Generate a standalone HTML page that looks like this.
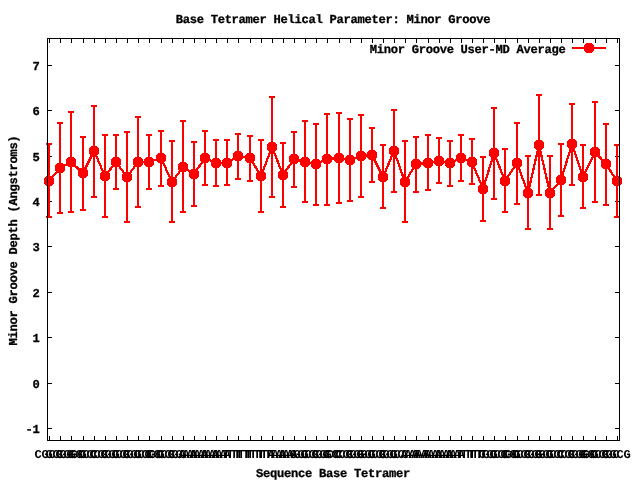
<!DOCTYPE html>
<html lang="en"><head><meta charset="utf-8"><title>Base Tetramer Helical Parameter: Minor Groove</title>
<style>html,body{margin:0;padding:0;background:#fff;}body{width:640px;height:480px;overflow:hidden;}svg{display:block;}text{font-family:"Liberation Mono","DejaVu Sans Mono",monospace;font-weight:bold;font-size:12.14px;fill:#000;letter-spacing:-0.285px;stroke:#000;stroke-width:0.3px;text-rendering:geometricPrecision;stroke-linejoin:round;}.xl text{stroke-width:0;stroke:none;}</style></head><body>
<svg width="640" height="480" viewBox="0 0 640 480">
<rect width="640" height="480" fill="#fff"/>
<g fill="#000" shape-rendering="crispEdges">
<rect x="49" y="436" width="1" height="4"/><rect x="49" y="39" width="1" height="4"/>
<rect x="60" y="436" width="1" height="4"/><rect x="60" y="39" width="1" height="4"/>
<rect x="71" y="436" width="1" height="4"/><rect x="71" y="39" width="1" height="4"/>
<rect x="83" y="436" width="1" height="4"/><rect x="83" y="39" width="1" height="4"/>
<rect x="94" y="436" width="1" height="4"/><rect x="94" y="39" width="1" height="4"/>
<rect x="105" y="436" width="1" height="4"/><rect x="105" y="39" width="1" height="4"/>
<rect x="116" y="436" width="1" height="4"/><rect x="116" y="39" width="1" height="4"/>
<rect x="127" y="436" width="1" height="4"/><rect x="127" y="39" width="1" height="4"/>
<rect x="138" y="436" width="1" height="4"/><rect x="138" y="39" width="1" height="4"/>
<rect x="149" y="436" width="1" height="4"/><rect x="149" y="39" width="1" height="4"/>
<rect x="161" y="436" width="1" height="4"/><rect x="161" y="39" width="1" height="4"/>
<rect x="172" y="436" width="1" height="4"/><rect x="172" y="39" width="1" height="4"/>
<rect x="183" y="436" width="1" height="4"/><rect x="183" y="39" width="1" height="4"/>
<rect x="194" y="436" width="1" height="4"/><rect x="194" y="39" width="1" height="4"/>
<rect x="205" y="436" width="1" height="4"/><rect x="205" y="39" width="1" height="4"/>
<rect x="216" y="436" width="1" height="4"/><rect x="216" y="39" width="1" height="4"/>
<rect x="227" y="436" width="1" height="4"/><rect x="227" y="39" width="1" height="4"/>
<rect x="238" y="436" width="1" height="4"/><rect x="238" y="39" width="1" height="4"/>
<rect x="250" y="436" width="1" height="4"/><rect x="250" y="39" width="1" height="4"/>
<rect x="261" y="436" width="1" height="4"/><rect x="261" y="39" width="1" height="4"/>
<rect x="272" y="436" width="1" height="4"/><rect x="272" y="39" width="1" height="4"/>
<rect x="283" y="436" width="1" height="4"/><rect x="283" y="39" width="1" height="4"/>
<rect x="294" y="436" width="1" height="4"/><rect x="294" y="39" width="1" height="4"/>
<rect x="305" y="436" width="1" height="4"/><rect x="305" y="39" width="1" height="4"/>
<rect x="316" y="436" width="1" height="4"/><rect x="316" y="39" width="1" height="4"/>
<rect x="327" y="436" width="1" height="4"/><rect x="327" y="39" width="1" height="4"/>
<rect x="339" y="436" width="1" height="4"/><rect x="339" y="39" width="1" height="4"/>
<rect x="350" y="436" width="1" height="4"/><rect x="350" y="39" width="1" height="4"/>
<rect x="361" y="436" width="1" height="4"/><rect x="361" y="39" width="1" height="4"/>
<rect x="372" y="436" width="1" height="4"/><rect x="372" y="39" width="1" height="4"/>
<rect x="383" y="436" width="1" height="4"/><rect x="383" y="39" width="1" height="4"/>
<rect x="394" y="436" width="1" height="4"/><rect x="394" y="39" width="1" height="4"/>
<rect x="405" y="436" width="1" height="4"/><rect x="405" y="39" width="1" height="4"/>
<rect x="416" y="436" width="1" height="4"/><rect x="416" y="39" width="1" height="4"/>
<rect x="428" y="436" width="1" height="4"/><rect x="428" y="39" width="1" height="4"/>
<rect x="439" y="436" width="1" height="4"/><rect x="439" y="39" width="1" height="4"/>
<rect x="450" y="436" width="1" height="4"/><rect x="450" y="39" width="1" height="4"/>
<rect x="461" y="436" width="1" height="4"/><rect x="461" y="39" width="1" height="4"/>
<rect x="472" y="436" width="1" height="4"/><rect x="472" y="39" width="1" height="4"/>
<rect x="483" y="436" width="1" height="4"/><rect x="483" y="39" width="1" height="4"/>
<rect x="494" y="436" width="1" height="4"/><rect x="494" y="39" width="1" height="4"/>
<rect x="505" y="436" width="1" height="4"/><rect x="505" y="39" width="1" height="4"/>
<rect x="517" y="436" width="1" height="4"/><rect x="517" y="39" width="1" height="4"/>
<rect x="528" y="436" width="1" height="4"/><rect x="528" y="39" width="1" height="4"/>
<rect x="539" y="436" width="1" height="4"/><rect x="539" y="39" width="1" height="4"/>
<rect x="550" y="436" width="1" height="4"/><rect x="550" y="39" width="1" height="4"/>
<rect x="561" y="436" width="1" height="4"/><rect x="561" y="39" width="1" height="4"/>
<rect x="572" y="436" width="1" height="4"/><rect x="572" y="39" width="1" height="4"/>
<rect x="583" y="436" width="1" height="4"/><rect x="583" y="39" width="1" height="4"/>
<rect x="595" y="436" width="1" height="4"/><rect x="595" y="39" width="1" height="4"/>
<rect x="606" y="436" width="1" height="4"/><rect x="606" y="39" width="1" height="4"/>
<rect x="617" y="436" width="1" height="4"/><rect x="617" y="39" width="1" height="4"/>
<rect x="48" y="65" width="4" height="1"/><rect x="615" y="65" width="4" height="1"/>
<rect x="48" y="110" width="4" height="1"/><rect x="615" y="110" width="4" height="1"/>
<rect x="48" y="156" width="4" height="1"/><rect x="615" y="156" width="4" height="1"/>
<rect x="48" y="201" width="4" height="1"/><rect x="615" y="201" width="4" height="1"/>
<rect x="48" y="246" width="4" height="1"/><rect x="615" y="246" width="4" height="1"/>
<rect x="48" y="292" width="4" height="1"/><rect x="615" y="292" width="4" height="1"/>
<rect x="48" y="337" width="4" height="1"/><rect x="615" y="337" width="4" height="1"/>
<rect x="48" y="383" width="4" height="1"/><rect x="615" y="383" width="4" height="1"/>
<rect x="48" y="428" width="4" height="1"/><rect x="615" y="428" width="4" height="1"/>
</g>
<g fill="#ff0000" stroke="none" shape-rendering="crispEdges">
<rect x="48" y="144" width="2" height="73"/>
<rect x="46" y="143" width="6" height="2"/><rect x="46" y="216" width="6" height="2"/>
<rect x="59" y="123" width="2" height="90"/>
<rect x="57" y="122" width="6" height="2"/><rect x="57" y="212" width="6" height="2"/>
<rect x="70" y="112" width="2" height="100"/>
<rect x="68" y="111" width="6" height="2"/><rect x="68" y="211" width="6" height="2"/>
<rect x="82" y="137" width="2" height="73"/>
<rect x="80" y="136" width="6" height="2"/><rect x="80" y="209" width="6" height="2"/>
<rect x="93" y="106" width="2" height="91"/>
<rect x="91" y="105" width="6" height="2"/><rect x="91" y="196" width="6" height="2"/>
<rect x="104" y="135" width="2" height="82"/>
<rect x="102" y="134" width="6" height="2"/><rect x="102" y="216" width="6" height="2"/>
<rect x="115" y="135" width="2" height="54"/>
<rect x="113" y="134" width="6" height="2"/><rect x="113" y="188" width="6" height="2"/>
<rect x="126" y="132" width="2" height="90"/>
<rect x="124" y="131" width="6" height="2"/><rect x="124" y="221" width="6" height="2"/>
<rect x="137" y="117" width="2" height="90"/>
<rect x="135" y="116" width="6" height="2"/><rect x="135" y="206" width="6" height="2"/>
<rect x="148" y="135" width="2" height="54"/>
<rect x="146" y="134" width="6" height="2"/><rect x="146" y="188" width="6" height="2"/>
<rect x="160" y="131" width="2" height="55"/>
<rect x="158" y="130" width="6" height="2"/><rect x="158" y="185" width="6" height="2"/>
<rect x="171" y="141" width="2" height="81"/>
<rect x="169" y="140" width="6" height="2"/><rect x="169" y="221" width="6" height="2"/>
<rect x="182" y="121" width="2" height="91"/>
<rect x="180" y="120" width="6" height="2"/><rect x="180" y="211" width="6" height="2"/>
<rect x="193" y="142" width="2" height="64"/>
<rect x="191" y="141" width="6" height="2"/><rect x="191" y="205" width="6" height="2"/>
<rect x="204" y="131" width="2" height="54"/>
<rect x="202" y="130" width="6" height="2"/><rect x="202" y="184" width="6" height="2"/>
<rect x="215" y="140" width="2" height="46"/>
<rect x="213" y="139" width="6" height="2"/><rect x="213" y="185" width="6" height="2"/>
<rect x="226" y="140" width="2" height="45"/>
<rect x="224" y="139" width="6" height="2"/><rect x="224" y="184" width="6" height="2"/>
<rect x="237" y="134" width="2" height="45"/>
<rect x="235" y="133" width="6" height="2"/><rect x="235" y="178" width="6" height="2"/>
<rect x="249" y="136" width="2" height="45"/>
<rect x="247" y="135" width="6" height="2"/><rect x="247" y="180" width="6" height="2"/>
<rect x="260" y="140" width="2" height="72"/>
<rect x="258" y="139" width="6" height="2"/><rect x="258" y="211" width="6" height="2"/>
<rect x="271" y="97" width="2" height="100"/>
<rect x="269" y="96" width="6" height="2"/><rect x="269" y="196" width="6" height="2"/>
<rect x="282" y="143" width="2" height="64"/>
<rect x="280" y="142" width="6" height="2"/><rect x="280" y="206" width="6" height="2"/>
<rect x="293" y="132" width="2" height="55"/>
<rect x="291" y="131" width="6" height="2"/><rect x="291" y="186" width="6" height="2"/>
<rect x="304" y="121" width="2" height="81"/>
<rect x="302" y="120" width="6" height="2"/><rect x="302" y="201" width="6" height="2"/>
<rect x="315" y="124" width="2" height="81"/>
<rect x="313" y="123" width="6" height="2"/><rect x="313" y="204" width="6" height="2"/>
<rect x="326" y="114" width="2" height="91"/>
<rect x="324" y="113" width="6" height="2"/><rect x="324" y="204" width="6" height="2"/>
<rect x="338" y="113" width="2" height="90"/>
<rect x="336" y="112" width="6" height="2"/><rect x="336" y="202" width="6" height="2"/>
<rect x="349" y="119" width="2" height="82"/>
<rect x="347" y="118" width="6" height="2"/><rect x="347" y="200" width="6" height="2"/>
<rect x="360" y="115" width="2" height="82"/>
<rect x="358" y="114" width="6" height="2"/><rect x="358" y="196" width="6" height="2"/>
<rect x="371" y="128" width="2" height="54"/>
<rect x="369" y="127" width="6" height="2"/><rect x="369" y="181" width="6" height="2"/>
<rect x="382" y="145" width="2" height="63"/>
<rect x="380" y="144" width="6" height="2"/><rect x="380" y="207" width="6" height="2"/>
<rect x="393" y="110" width="2" height="82"/>
<rect x="391" y="109" width="6" height="2"/><rect x="391" y="191" width="6" height="2"/>
<rect x="404" y="141" width="2" height="81"/>
<rect x="402" y="140" width="6" height="2"/><rect x="402" y="221" width="6" height="2"/>
<rect x="415" y="137" width="2" height="55"/>
<rect x="413" y="136" width="6" height="2"/><rect x="413" y="191" width="6" height="2"/>
<rect x="427" y="135" width="2" height="55"/>
<rect x="425" y="134" width="6" height="2"/><rect x="425" y="189" width="6" height="2"/>
<rect x="438" y="138" width="2" height="45"/>
<rect x="436" y="137" width="6" height="2"/><rect x="436" y="182" width="6" height="2"/>
<rect x="449" y="141" width="2" height="45"/>
<rect x="447" y="140" width="6" height="2"/><rect x="447" y="185" width="6" height="2"/>
<rect x="460" y="135" width="2" height="46"/>
<rect x="458" y="134" width="6" height="2"/><rect x="458" y="180" width="6" height="2"/>
<rect x="471" y="139" width="2" height="45"/>
<rect x="469" y="138" width="6" height="2"/><rect x="469" y="183" width="6" height="2"/>
<rect x="482" y="157" width="2" height="64"/>
<rect x="480" y="156" width="6" height="2"/><rect x="480" y="220" width="6" height="2"/>
<rect x="493" y="108" width="2" height="91"/>
<rect x="491" y="107" width="6" height="2"/><rect x="491" y="198" width="6" height="2"/>
<rect x="504" y="149" width="2" height="63"/>
<rect x="502" y="148" width="6" height="2"/><rect x="502" y="211" width="6" height="2"/>
<rect x="516" y="123" width="2" height="81"/>
<rect x="514" y="122" width="6" height="2"/><rect x="514" y="203" width="6" height="2"/>
<rect x="527" y="156" width="2" height="73"/>
<rect x="525" y="155" width="6" height="2"/><rect x="525" y="228" width="6" height="2"/>
<rect x="538" y="95" width="2" height="100"/>
<rect x="536" y="94" width="6" height="2"/><rect x="536" y="194" width="6" height="2"/>
<rect x="549" y="156" width="2" height="73"/>
<rect x="547" y="155" width="6" height="2"/><rect x="547" y="228" width="6" height="2"/>
<rect x="560" y="144" width="2" height="72"/>
<rect x="558" y="143" width="6" height="2"/><rect x="558" y="215" width="6" height="2"/>
<rect x="571" y="104" width="2" height="81"/>
<rect x="569" y="103" width="6" height="2"/><rect x="569" y="184" width="6" height="2"/>
<rect x="582" y="145" width="2" height="63"/>
<rect x="580" y="144" width="6" height="2"/><rect x="580" y="207" width="6" height="2"/>
<rect x="594" y="102" width="2" height="100"/>
<rect x="592" y="101" width="6" height="2"/><rect x="592" y="201" width="6" height="2"/>
<rect x="605" y="124" width="2" height="81"/>
<rect x="603" y="123" width="6" height="2"/><rect x="603" y="204" width="6" height="2"/>
<rect x="616" y="145" width="2" height="72"/>
<rect x="614" y="144" width="6" height="2"/><rect x="614" y="216" width="6" height="2"/>
</g>
<path d="M49 181 L60 168 L71 162 L83 173 L94 151 L105 176 L116 162 L127 177 L138 162 L149 162 L161 158 L172 182 L183 167 L194 174 L205 158 L216 163 L227 163 L238 156 L250 158 L261 176 L272 147 L283 175 L294 159 L305 162 L316 164 L327 159 L339 158 L350 160 L361 156 L372 155 L383 177 L394 151 L405 182 L416 164 L428 163 L439 161 L450 163 L461 158 L472 162 L483 189 L494 153 L505 181 L517 163 L528 193 L539 145 L550 193 L561 180 L572 144 L583 177 L595 152 L606 164 L617 181" fill="none" stroke="#ff0000" stroke-width="2.25" stroke-linejoin="round" shape-rendering="crispEdges"/>
<g fill="#ff0000" shape-rendering="crispEdges">
<path d="M46 176h6v1h1v1h1v6h-1v1h-1v1h-6v-1h-1v-1h-1v-6h1v-1h1z"/>
<path d="M57 163h6v1h1v1h1v6h-1v1h-1v1h-6v-1h-1v-1h-1v-6h1v-1h1z"/>
<path d="M68 157h6v1h1v1h1v6h-1v1h-1v1h-6v-1h-1v-1h-1v-6h1v-1h1z"/>
<path d="M80 168h6v1h1v1h1v6h-1v1h-1v1h-6v-1h-1v-1h-1v-6h1v-1h1z"/>
<path d="M91 146h6v1h1v1h1v6h-1v1h-1v1h-6v-1h-1v-1h-1v-6h1v-1h1z"/>
<path d="M102 171h6v1h1v1h1v6h-1v1h-1v1h-6v-1h-1v-1h-1v-6h1v-1h1z"/>
<path d="M113 157h6v1h1v1h1v6h-1v1h-1v1h-6v-1h-1v-1h-1v-6h1v-1h1z"/>
<path d="M124 172h6v1h1v1h1v6h-1v1h-1v1h-6v-1h-1v-1h-1v-6h1v-1h1z"/>
<path d="M135 157h6v1h1v1h1v6h-1v1h-1v1h-6v-1h-1v-1h-1v-6h1v-1h1z"/>
<path d="M146 157h6v1h1v1h1v6h-1v1h-1v1h-6v-1h-1v-1h-1v-6h1v-1h1z"/>
<path d="M158 153h6v1h1v1h1v6h-1v1h-1v1h-6v-1h-1v-1h-1v-6h1v-1h1z"/>
<path d="M169 177h6v1h1v1h1v6h-1v1h-1v1h-6v-1h-1v-1h-1v-6h1v-1h1z"/>
<path d="M180 162h6v1h1v1h1v6h-1v1h-1v1h-6v-1h-1v-1h-1v-6h1v-1h1z"/>
<path d="M191 169h6v1h1v1h1v6h-1v1h-1v1h-6v-1h-1v-1h-1v-6h1v-1h1z"/>
<path d="M202 153h6v1h1v1h1v6h-1v1h-1v1h-6v-1h-1v-1h-1v-6h1v-1h1z"/>
<path d="M213 158h6v1h1v1h1v6h-1v1h-1v1h-6v-1h-1v-1h-1v-6h1v-1h1z"/>
<path d="M224 158h6v1h1v1h1v6h-1v1h-1v1h-6v-1h-1v-1h-1v-6h1v-1h1z"/>
<path d="M235 151h6v1h1v1h1v6h-1v1h-1v1h-6v-1h-1v-1h-1v-6h1v-1h1z"/>
<path d="M247 153h6v1h1v1h1v6h-1v1h-1v1h-6v-1h-1v-1h-1v-6h1v-1h1z"/>
<path d="M258 171h6v1h1v1h1v6h-1v1h-1v1h-6v-1h-1v-1h-1v-6h1v-1h1z"/>
<path d="M269 142h6v1h1v1h1v6h-1v1h-1v1h-6v-1h-1v-1h-1v-6h1v-1h1z"/>
<path d="M280 170h6v1h1v1h1v6h-1v1h-1v1h-6v-1h-1v-1h-1v-6h1v-1h1z"/>
<path d="M291 154h6v1h1v1h1v6h-1v1h-1v1h-6v-1h-1v-1h-1v-6h1v-1h1z"/>
<path d="M302 157h6v1h1v1h1v6h-1v1h-1v1h-6v-1h-1v-1h-1v-6h1v-1h1z"/>
<path d="M313 159h6v1h1v1h1v6h-1v1h-1v1h-6v-1h-1v-1h-1v-6h1v-1h1z"/>
<path d="M324 154h6v1h1v1h1v6h-1v1h-1v1h-6v-1h-1v-1h-1v-6h1v-1h1z"/>
<path d="M336 153h6v1h1v1h1v6h-1v1h-1v1h-6v-1h-1v-1h-1v-6h1v-1h1z"/>
<path d="M347 155h6v1h1v1h1v6h-1v1h-1v1h-6v-1h-1v-1h-1v-6h1v-1h1z"/>
<path d="M358 151h6v1h1v1h1v6h-1v1h-1v1h-6v-1h-1v-1h-1v-6h1v-1h1z"/>
<path d="M369 150h6v1h1v1h1v6h-1v1h-1v1h-6v-1h-1v-1h-1v-6h1v-1h1z"/>
<path d="M380 172h6v1h1v1h1v6h-1v1h-1v1h-6v-1h-1v-1h-1v-6h1v-1h1z"/>
<path d="M391 146h6v1h1v1h1v6h-1v1h-1v1h-6v-1h-1v-1h-1v-6h1v-1h1z"/>
<path d="M402 177h6v1h1v1h1v6h-1v1h-1v1h-6v-1h-1v-1h-1v-6h1v-1h1z"/>
<path d="M413 159h6v1h1v1h1v6h-1v1h-1v1h-6v-1h-1v-1h-1v-6h1v-1h1z"/>
<path d="M425 158h6v1h1v1h1v6h-1v1h-1v1h-6v-1h-1v-1h-1v-6h1v-1h1z"/>
<path d="M436 156h6v1h1v1h1v6h-1v1h-1v1h-6v-1h-1v-1h-1v-6h1v-1h1z"/>
<path d="M447 158h6v1h1v1h1v6h-1v1h-1v1h-6v-1h-1v-1h-1v-6h1v-1h1z"/>
<path d="M458 153h6v1h1v1h1v6h-1v1h-1v1h-6v-1h-1v-1h-1v-6h1v-1h1z"/>
<path d="M469 157h6v1h1v1h1v6h-1v1h-1v1h-6v-1h-1v-1h-1v-6h1v-1h1z"/>
<path d="M480 184h6v1h1v1h1v6h-1v1h-1v1h-6v-1h-1v-1h-1v-6h1v-1h1z"/>
<path d="M491 148h6v1h1v1h1v6h-1v1h-1v1h-6v-1h-1v-1h-1v-6h1v-1h1z"/>
<path d="M502 176h6v1h1v1h1v6h-1v1h-1v1h-6v-1h-1v-1h-1v-6h1v-1h1z"/>
<path d="M514 158h6v1h1v1h1v6h-1v1h-1v1h-6v-1h-1v-1h-1v-6h1v-1h1z"/>
<path d="M525 188h6v1h1v1h1v6h-1v1h-1v1h-6v-1h-1v-1h-1v-6h1v-1h1z"/>
<path d="M536 140h6v1h1v1h1v6h-1v1h-1v1h-6v-1h-1v-1h-1v-6h1v-1h1z"/>
<path d="M547 188h6v1h1v1h1v6h-1v1h-1v1h-6v-1h-1v-1h-1v-6h1v-1h1z"/>
<path d="M558 175h6v1h1v1h1v6h-1v1h-1v1h-6v-1h-1v-1h-1v-6h1v-1h1z"/>
<path d="M569 139h6v1h1v1h1v6h-1v1h-1v1h-6v-1h-1v-1h-1v-6h1v-1h1z"/>
<path d="M580 172h6v1h1v1h1v6h-1v1h-1v1h-6v-1h-1v-1h-1v-6h1v-1h1z"/>
<path d="M592 147h6v1h1v1h1v6h-1v1h-1v1h-6v-1h-1v-1h-1v-6h1v-1h1z"/>
<path d="M603 159h6v1h1v1h1v6h-1v1h-1v1h-6v-1h-1v-1h-1v-6h1v-1h1z"/>
<path d="M614 176h6v1h1v1h1v6h-1v1h-1v1h-6v-1h-1v-1h-1v-6h1v-1h1z"/>
<rect x="572" y="47" width="34" height="2"/><path d="M586 43h6v1h1v1h1v6h-1v1h-1v1h-6v-1h-1v-1h-1v-6h1v-1h1z"/>
</g>
<g fill="#000" shape-rendering="crispEdges"><rect x="47" y="38" width="573" height="1"/><rect x="47" y="440" width="573" height="1"/><rect x="47" y="38" width="1" height="403"/><rect x="619" y="38" width="1" height="403"/></g>
<text x="333" y="23" text-anchor="middle">Base Tetramer Helical Parameter: Minor Groove</text>
<text x="333" y="477" text-anchor="middle">Sequence Base Tetramer</text>
<text x="565.5" y="53" text-anchor="end">Minor Groove User-MD Average</text>
<text transform="translate(17.2 240.5) rotate(-90)" text-anchor="middle">Minor Groove Depth (Angstroms)</text>
<text x="39.6" y="70" text-anchor="end">7</text>
<text x="39.6" y="115" text-anchor="end">6</text>
<text x="39.6" y="161" text-anchor="end">5</text>
<text x="39.6" y="206" text-anchor="end">4</text>
<text x="39.6" y="251" text-anchor="end">3</text>
<text x="39.6" y="297" text-anchor="end">2</text>
<text x="39.6" y="342" text-anchor="end">1</text>
<text x="39.6" y="388" text-anchor="end">0</text>
<text x="39.6" y="433" text-anchor="end">-1</text>
<g class="xl">
<text x="48.6" y="458" text-anchor="middle">CGCG</text>
<text x="59.6" y="458" text-anchor="middle">GCGG</text>
<text x="70.6" y="458" text-anchor="middle">CGGC</text>
<text x="82.6" y="458" text-anchor="middle">GGCC</text>
<text x="93.6" y="458" text-anchor="middle">GCCG</text>
<text x="104.6" y="458" text-anchor="middle">CCGC</text>
<text x="115.6" y="458" text-anchor="middle">CGCG</text>
<text x="126.6" y="458" text-anchor="middle">GCGC</text>
<text x="137.6" y="458" text-anchor="middle">CGCG</text>
<text x="148.6" y="458" text-anchor="middle">GCGC</text>
<text x="160.6" y="458" text-anchor="middle">CGCG</text>
<text x="171.6" y="458" text-anchor="middle">GCGA</text>
<text x="182.6" y="458" text-anchor="middle">CGAA</text>
<text x="193.6" y="458" text-anchor="middle">GAAA</text>
<text x="204.6" y="458" text-anchor="middle">AAAA</text>
<text x="215.6" y="458" text-anchor="middle">AAAT</text>
<text x="226.6" y="458" text-anchor="middle">AATT</text>
<text x="237.6" y="458" text-anchor="middle">ATTT</text>
<text x="249.6" y="458" text-anchor="middle">TTTT</text>
<text x="260.6" y="458" text-anchor="middle">TTTA</text>
<text x="271.6" y="458" text-anchor="middle">TTAA</text>
<text x="282.6" y="458" text-anchor="middle">TAAG</text>
<text x="293.6" y="458" text-anchor="middle">AAGC</text>
<text x="304.6" y="458" text-anchor="middle">AGCG</text>
<text x="315.6" y="458" text-anchor="middle">GCGC</text>
<text x="326.6" y="458" text-anchor="middle">CGCC</text>
<text x="338.6" y="458" text-anchor="middle">GCCG</text>
<text x="349.6" y="458" text-anchor="middle">CCGG</text>
<text x="360.6" y="458" text-anchor="middle">CGGC</text>
<text x="371.6" y="458" text-anchor="middle">GGCG</text>
<text x="382.6" y="458" text-anchor="middle">GCGC</text>
<text x="393.6" y="458" text-anchor="middle">CGCA</text>
<text x="404.6" y="458" text-anchor="middle">GCAA</text>
<text x="415.6" y="458" text-anchor="middle">CAAA</text>
<text x="427.6" y="458" text-anchor="middle">AAAA</text>
<text x="438.6" y="458" text-anchor="middle">AAAA</text>
<text x="449.6" y="458" text-anchor="middle">AAAT</text>
<text x="460.6" y="458" text-anchor="middle">AATT</text>
<text x="471.6" y="458" text-anchor="middle">ATTG</text>
<text x="482.6" y="458" text-anchor="middle">TTGC</text>
<text x="493.6" y="458" text-anchor="middle">TGCG</text>
<text x="504.6" y="458" text-anchor="middle">GCGC</text>
<text x="516.6" y="458" text-anchor="middle">CGCG</text>
<text x="527.6" y="458" text-anchor="middle">GCGG</text>
<text x="538.6" y="458" text-anchor="middle">CGGC</text>
<text x="549.6" y="458" text-anchor="middle">GGCC</text>
<text x="560.6" y="458" text-anchor="middle">GCCG</text>
<text x="571.6" y="458" text-anchor="middle">CCGG</text>
<text x="582.6" y="458" text-anchor="middle">CGGC</text>
<text x="594.6" y="458" text-anchor="middle">GGCG</text>
<text x="605.6" y="458" text-anchor="middle">GCGC</text>
<text x="616.6" y="458" text-anchor="middle">CGCG</text>
</g>
</svg></body></html>
